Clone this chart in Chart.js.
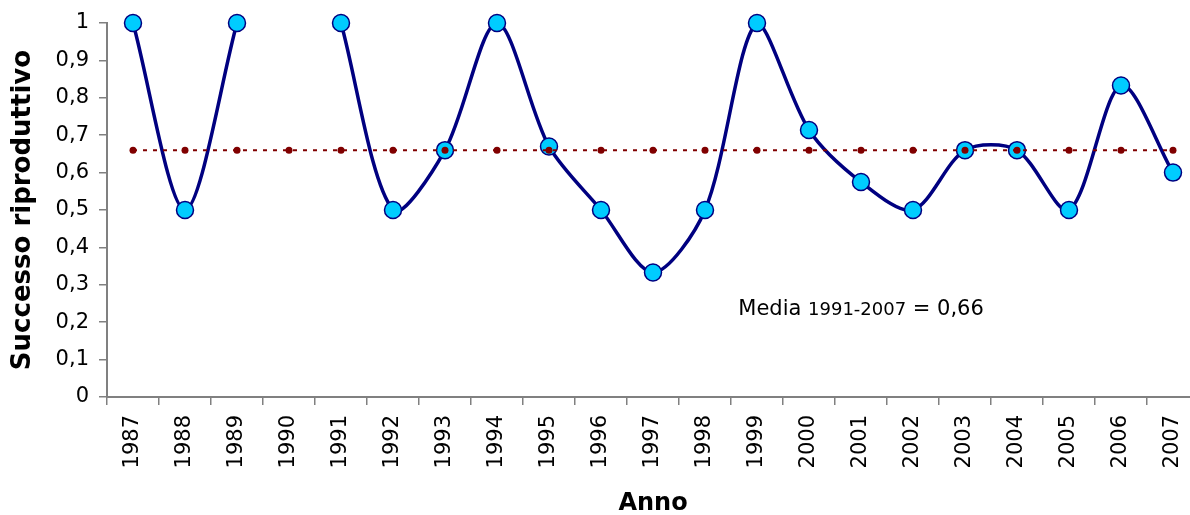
<!DOCTYPE html>
<html>
<head>
<meta charset="utf-8">
<script src="https://cdn.jsdelivr.net/npm/chart.js@4/dist/chart.umd.min.js"></script>
<style>
  html, body { margin: 0; padding: 0; background: #fff; overflow: hidden; }
  #wrap { width: 1209px; height: 515px; position: relative; }
</style>
</head>
<body>
<div id="wrap"><canvas id="c"></canvas></div>
<script>
const categories = ['1987','1988','1989','1990','1991','1992','1993','1994','1995','1996','1997','1998','1999','2000','2001','2002','2003','2004','2005','2006','2007'];
const successo = [1, 0.5, 1, null, 1, 0.5, 0.66, 1, 0.67, 0.5, 0.333, 0.5, 1, 0.714, 0.575, 0.5, 0.66, 0.66, 0.5, 0.833, 0.6];
const media = [0.66, 0.66, 0.66, 0.66, 0.66, 0.66, 0.66, 0.66, 0.66, 0.66, 0.66, 0.66, 0.66, 0.66, 0.66, 0.66, 0.66, 0.66, 0.66, 0.66, 0.66];
const yTicks = { min: 0, max: 1, step: 0.1 };

const annotation = {
  id: 'mediaLabel',
  afterDatasetsDraw(chart) {
    const ctx = chart.ctx;
    const x0 = chart.scales.x.getPixelForValue(11.64);
    const y0 = chart.scales.y.getPixelForValue(0.22);
    ctx.save();
    ctx.fillStyle = '#000';
    ctx.textBaseline = 'alphabetic';
    ctx.textAlign = 'left';
    let x = x0;
    ctx.font = '21px "DejaVu Sans"';
    ctx.fillText('Media', x, y0);
    x += ctx.measureText('Media ').width;
    ctx.font = '18px "DejaVu Sans"';
    ctx.fillText('1991-2007', x, y0);
    x += ctx.measureText('1991-2007').width;
    ctx.font = '21px "DejaVu Sans"';
    ctx.fillText(' = 0,66', x, y0);
    ctx.restore();
  }
};

new Chart(document.getElementById('c'), {
  type: 'line',
  data: {
    labels: categories,
    datasets: [
      {
        label: 'Media',
        data: media,
        order: 0,
        borderColor: '#800000',
        borderWidth: 2,
        borderDash: [4, 6],
        pointRadius: 3.5,
        pointBackgroundColor: '#800000',
        pointBorderWidth: 0,
        tension: 0,
        clip: false
      },
      {
        label: 'Successo riproduttivo',
        data: successo,
        order: 1,
        borderColor: '#000080',
        borderWidth: 3.5,
        pointRadius: 8.5,
        pointBackgroundColor: '#00CCFF',
        pointBorderColor: '#000080',
        pointBorderWidth: 1.5,
        tension: 0.3,
        spanGaps: false,
        clip: false
      }
    ]
  },
  options: {
    responsive: true,
    maintainAspectRatio: false,
    animation: false,
    devicePixelRatio: 1,
    layout: { padding: { top: 23, left: 0, right: 0, bottom: 0 } },
    plugins: { legend: { display: false }, tooltip: { enabled: false } },
    scales: {
      x: {
        type: 'category',
        offset: true,
        grid: { display: true, drawOnChartArea: false, offset: true, tickLength: 8, color: '#808080', lineWidth: 1.5 },
        border: { display: true, color: '#808080', width: 2 },
        ticks: { minRotation: 90, maxRotation: 90, autoSkip: false, padding: 10, color: '#000', font: { family: 'DejaVu Sans', size: 21 } },
        title: { display: true, text: 'Anno', color: '#000', font: { family: 'DejaVu Sans', size: 24, weight: 'bold' }, padding: { top: 0, bottom: -3 } },
        afterFit(scale) { scale.height = 118; }
      },
      y: {
        min: yTicks.min,
        max: yTicks.max,
        grid: { display: true, drawOnChartArea: false, tickLength: 8, color: '#808080', lineWidth: 1.5 },
        border: { display: true, color: '#808080', width: 2 },
        ticks: {
          stepSize: yTicks.step, padding: 10, color: '#000', font: { family: 'DejaVu Sans', size: 21 },
          callback: v => Number(v.toFixed(1)).toString().replace('.', ',')
        },
        title: { display: true, text: 'Successo riproduttivo', color: '#000', font: { family: 'DejaVu Sans', size: 26, weight: 'bold' }, padding: { top: 8, bottom: 0 } },
        afterFit(scale) { scale.width = 107; }
      }
    }
  },
  plugins: [annotation]
});
</script>
</body>
</html>
